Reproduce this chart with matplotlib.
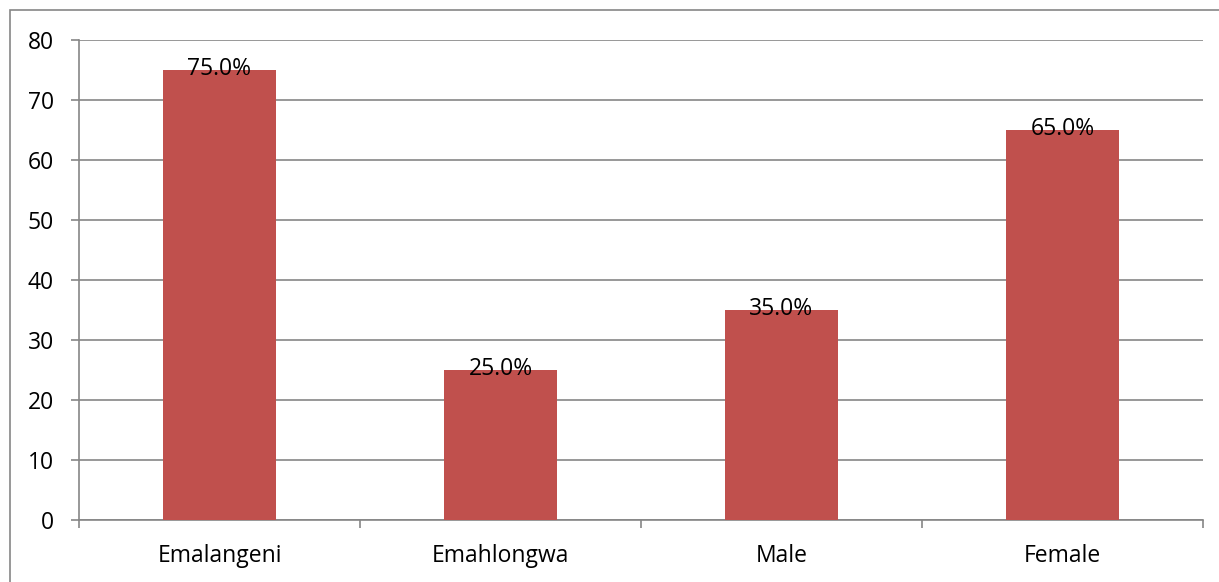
import matplotlib.pyplot as plt
from matplotlib.patches import Rectangle

# Datos
categorias = ['Emalangeni', 'Emahlongwa', 'Male', 'Female']
valores = [75.0, 25.0, 35.0, 65.0]
etiquetas = ['75.0%', '25.0%', '35.0%', '65.0%']

plt.rcParams['font.family'] = ['Open Sans', 'DejaVu Sans']
gris = '#868686'
tam = 16.5

fig = plt.figure(figsize=(12.19, 5.82), dpi=100)
ax = fig.add_axes([79/1219, 1 - 520/582, (1203 - 79)/1219, (520 - 40)/582])

# Marco exterior del grafico
fig.patches.append(Rectangle((10/1219, -0.1), 1.2, 1 - 10/582 + 0.1,
                             transform=fig.transFigure, fill=False,
                             edgecolor=gris, linewidth=1.2))

pos = range(len(categorias))
ax.bar(pos, valores, width=0.4, color='#C0504D', zorder=3)

for x, v, t in zip(pos, valores, etiquetas):
    ax.annotate(t, xy=(x, v), xytext=(0, -5), textcoords='offset pixels',
                ha='center', va='baseline', fontsize=tam, color='black', zorder=4)

ax.set_xlim(-0.5, len(categorias) - 0.5)
ax.set_ylim(0, 80)
ax.set_yticks(range(0, 81, 10))
ax.yaxis.grid(True, color=gris, linewidth=1.2, zorder=0)
ax.set_axisbelow(True)

ax.set_xticks(list(pos))
ax.set_xticklabels(categorias, fontsize=tam)
ax.set_xticks([i - 0.5 for i in range(len(categorias) + 1)], minor=True)
ax.tick_params(axis='x', which='major', length=0, pad=17)
ax.tick_params(axis='x', which='minor', length=6, width=1.2, color=gris)
ax.tick_params(axis='y', labelsize=tam, length=6, width=1.2, color=gris, pad=12)

for s in ['top', 'right']:
    ax.spines[s].set_visible(False)
for s in ['left', 'bottom']:
    ax.spines[s].set_color(gris)
    ax.spines[s].set_linewidth(1.2)

plt.savefig('out.png', dpi=100)
